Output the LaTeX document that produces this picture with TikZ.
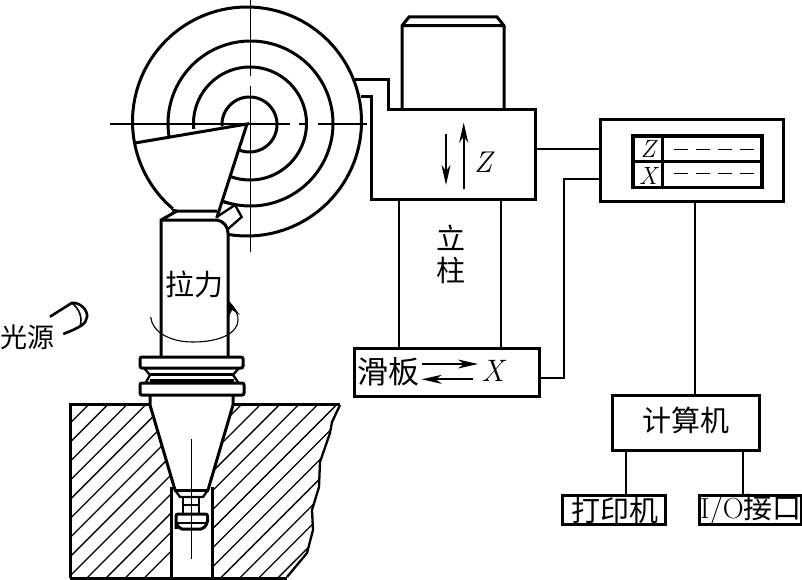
\documentclass[tikz,border=0pt]{standalone}
\usepackage{fontspec}
\newfontfamily\cjk{Noto Sans CJK SC}
\usetikzlibrary{arrows.meta}
\newcommand{\wheelarc}[5]{\draw[thick line] plot[domain=#4:#5,samples=120,smooth] ({#1+#2*cos(\x)},{#3+#2*sin(\x)});}
\tikzset{
  thick line/.style={line width=3pt,line join=miter},
  mid line/.style={line width=2.3pt},
  thin line/.style={line width=1.8pt},
  centre line/.style={line width=1.4pt},
  hatch/.style={line width=1.3pt},
  box/.style={draw,line width=3pt,rectangle,inner sep=0pt,outer sep=0pt},
  lab/.style={inner sep=0pt,font=\fontsize{29}{30}\selectfont\cjk},
  mathlab/.style={inner sep=0pt,font=\fontsize{30}{30}\selectfont\itshape},
  motion/.style={line width=1.8pt,-{Stealth[length=20pt,width=9pt,inset=6pt]}}
}
\begin{document}
\begin{tikzpicture}[x=1pt,y=-1pt]
\useasboundingbox (0,0) rectangle (802,580);
% grinding wheel
\wheelarc{247}{114.5}{121.5}{130.3}{459.5}
\wheelarc{250.5}{82.5}{123.5}{171.4}{469.5}
\wheelarc{250}{56.5}{123.5}{174.5}{471}
\wheelarc{249.5}{27.5}{124.5}{176}{474}
\draw[thick line] (135,143) -- (247,124) -- (216.7,218);
% centre lines
\draw[centre line] (110,124) -- (290,124) (299,124) -- (308,124) (318,124) -- (367,124);
\draw[centre line] (250.7,0) -- (250.7,76) (250.7,86) -- (250.7,252);
% spindle
\draw[thick line] (172,210) -- (177,211) -- (217,211);
\draw[thick line] (161,357) -- (161,220) -- (177,211) (161,220) -- (217,220) .. controls (223,221) and (228,226) .. (228,233) -- (228,357);
\draw[mid line] (216.7,217) -- (235,205) -- (241.7,217) -- (228,229);
\draw[mid line] (221.7,201.7) -- (235,205);
% flanges
\draw[thick line,rounded corners=2pt] (140,357) rectangle (243,368);
\draw[mid line] (144,368) -- (150,375) -- (146,382) (239,368) -- (233,375) -- (238,382);
\draw[thick line] (149,374.5) -- (233,374.5);
\draw[thick line] (150,380) -- (234,380);
\draw[thick line,rounded corners=2pt] (140,383) rectangle (244,395);
% block
\draw[thick line] (70,578) -- (70,404.5) -- (150,404.5);
\draw[thick line] (233,404.5) -- (340,404.5);
\draw[thick line] (70,578) -- (287,578);
\draw[mid line] (340,405) -- (332,422) -- (330,433) -- (320,462) -- (319,487) -- (312,510) -- (313,530) -- (307,553) -- (287,577);
\begin{scope}
  \clip (70,405) -- (150,405) -- (175,490) -- (170.7,490) -- (170.7,578) -- (70,578) -- cycle;
  \foreach \k in {-4,...,12}{\draw[hatch] ({493.3+\k*19.08-300},300) -- ({493.3+\k*19.08-600},600);}
\end{scope}
\begin{scope}
  \clip (233,405) -- (340,405) -- (332,422) -- (330,433) -- (320,462) -- (319,487) -- (312,510) -- (313,530) -- (307,553) -- (287,578) -- (212.7,578) -- (212.7,490) -- (208,490) -- cycle;
  \foreach \k in {5,...,28}{\draw[hatch] ({493.3+\k*19.08-300},300) -- ({493.3+\k*19.08-600},600);}
\end{scope}
% cone and hole
\draw[thick line] (150,395) -- (150,405) -- (175,490) (233,395) -- (233,405) -- (208,490);
\draw[thick line] (171,487) -- (171,578) (212.7,487) -- (212.7,578);
% pull stud
\draw[thick line] (174,490) -- (209,490);
\draw[mid line] (175,490) -- (180,497) -- (203,497) -- (208,490);
\draw[mid line] (183,497) -- (183,514) (199,497) -- (199,514) (183,505) -- (199,505);
\draw[thick line,rounded corners=2pt] (176,529) -- (176,514) -- (207.5,514) -- (207.5,523) -- (203,529) -- (180,529) -- (176,523);
\draw[mid line] (176,523) -- (207.5,523);
\draw[centre line] (191.7,439) -- (191.7,559);
% rotation arrow
\draw[line width=1.1pt] (150.7,317) .. controls (152,332) and (170,342) .. (193,342) .. controls (222,342) and (238,332) .. (238,320) .. controls (238,312) and (233,306) .. (229,302);
\fill (227.5,299) -- (240,315) -- (232,310) -- (229,316) -- cycle;
% light source
\draw[line width=2.6pt] (50,316.7) -- (71.7,303) .. controls (80,302) and (88,310) .. (87,317) .. controls (86,324) and (81,327) .. (63.3,334);
\draw[line width=1.6pt] (71.7,303) .. controls (79,308) and (83,318) .. (80,326);
\node[lab,font=\fontsize{27}{28}\selectfont\cjk] (shine) at (28,337) {光源};
\node[lab] (pull) at (194,284) {拉力};
% column head
\coordinate (headA) at (355,80);
\coordinate (headB) at (361,97);
\draw[thick line] (headA) -- (388,80) -- (388,109.3) -- (535,109.3) -- (535,199) -- (371.7,199) -- (371.7,97) -- (headB);
\draw[thick line] (402,109) -- (402,25.7) -- (409,17) -- (497,17) -- (504,25.7) -- (504,109) (402,25.7) -- (504,25.7);
\coordinate (dA) at (446,134); \coordinate (dB) at (446,185);
\coordinate (uA) at (463.7,189); \coordinate (uB) at (463.7,122.7);
\draw[motion] (dA) -- (dB);
\draw[motion] (uA) -- (uB);
\node[mathlab] (zlab) at (483,162) {Z};
\node[lab] (post1) at (451,238) {立};
\node[lab] (post2) at (451,270) {柱};
% control box
\node[box,minimum width=183pt,minimum height=81pt] (ctrl) at (691.5,160.5) {};
\node[box,line width=3.2pt,minimum width=129pt,minimum height=51.7pt] (disp) at (697.5,161.8) {};
\draw[line width=3.2pt] (disp.west) -- (disp.east) (662.7,136) -- (662.7,187.7);
\node[inner sep=0pt,font=\fontsize{25}{25}\selectfont\itshape] (dz) at (648,149) {Z};
\node[inner sep=0pt,font=\fontsize{25}{25}\selectfont\itshape] (dx) at (648,175.5) {X};
\draw[line width=1.5pt,dash pattern=on 14pt off 8pt] (674,149.7) -- (754,149.7);
\draw[line width=1.5pt,dash pattern=on 14pt off 8pt] (674,173.7) -- (754,173.7);
% slider
\node[box,minimum width=185pt,minimum height=48.4pt] (slide) at (446.5,372.5) {};
\node[lab,font=\fontsize{31}{31}\selectfont\cjk] (slidetxt) at (388,372) {滑板};
\node[mathlab,font=\fontsize{31}{31}\selectfont\itshape] (xlab) at (492.7,371) {X};
\coordinate (rA) at (421.7,364); \coordinate (rB) at (478,364);
\coordinate (lA) at (473,379.3); \coordinate (lB) at (421.7,379.3);
\draw[motion] (rA) -- (rB);
\draw[motion] (lA) -- (lB);
% computer and peripherals
\node[box,minimum width=146.6pt,minimum height=54.3pt] (comp) at (686,423) {};
\node[lab] (comptxt) at (686,420) {计算机};
\node[box,minimum width=102.7pt,minimum height=29.3pt] (print) at (614.3,510.3) {};
\node[lab] (printtxt) at (615,510) {打印机};
\node[box,minimum width=102pt,minimum height=29.3pt] (io) at (750.5,510.3) {};
\node[inner sep=0pt,font=\fontsize{29}{30}\selectfont] (iotxt) at (751,510) {I/O{\cjk 接口}};
% connectors
\coordinate (headR) at (535,149);
\coordinate (ctrlIn) at (600,179);
\coordinate (bend1) at (563.7,179);
\coordinate (bend2) at (563.7,377.7);
\coordinate (colL) at (399,199);
\coordinate (colR) at (500.7,199);
\coordinate (compUp) at (695,423);
\coordinate (prDown) at (625.7,423);
\coordinate (ioDown) at (742.7,423);
\draw[thin line] (headR) -- (ctrl.west |- headR);
\draw[thin line] (ctrlIn) -- (bend1) -- (bend2) -- (slide.east |- bend2);
\draw[thin line] (colL) -- (colL |- slide.north);
\draw[thin line] (colR) -- (colR |- slide.north);
\draw[thin line] (compUp |- ctrl.south) -- (compUp |- comp.north);
\draw[thin line] (prDown |- comp.south) -- (prDown |- print.north);
\draw[thin line] (ioDown |- comp.south) -- (ioDown |- io.north);
\end{tikzpicture}
\end{document}
